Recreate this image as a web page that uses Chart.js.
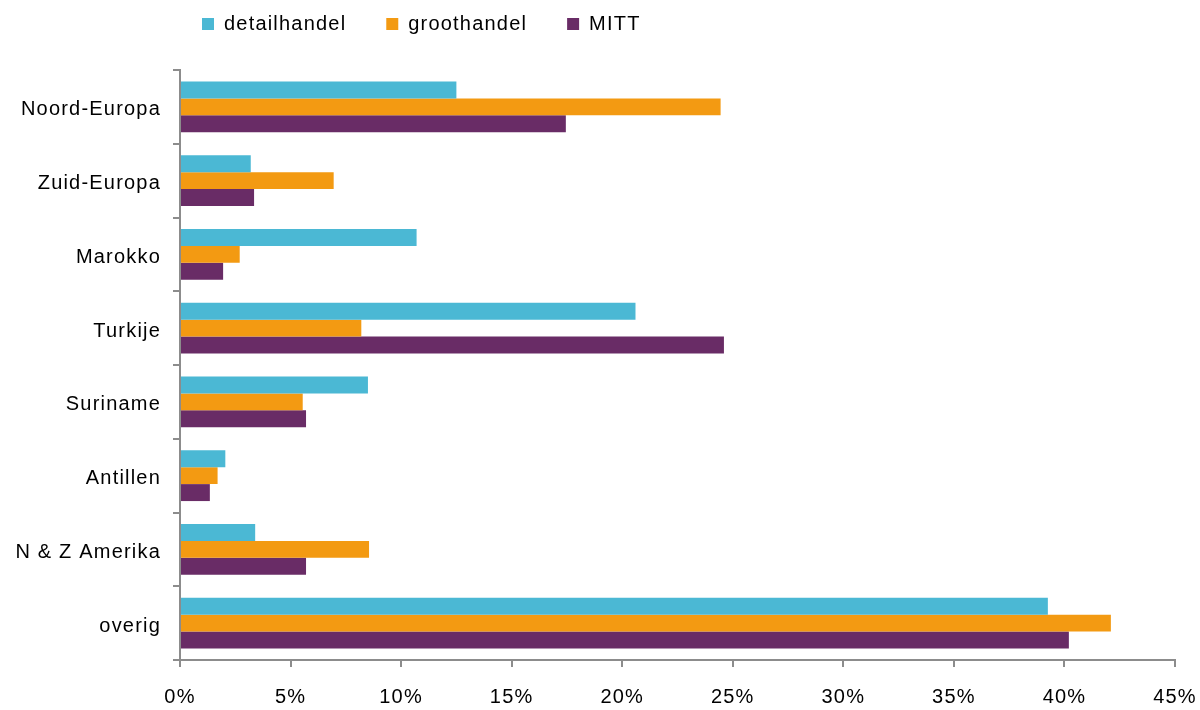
<!DOCTYPE html>
<html>
<head>
<meta charset="utf-8">
<script src="https://cdn.jsdelivr.net/npm/chart.js@4/dist/chart.umd.min.js"></script>
<style>
  html, body { margin: 0; padding: 0; background: #fff; }
  #chart { display: block; }
</style>
</head>
<body>
<canvas id="chart" width="1200" height="710"></canvas>
<script>
const regions = ['Noord-Europa', 'Zuid-Europa', 'Marokko', 'Turkije', 'Suriname', 'Antillen', 'N & Z Amerika', 'overig'];
const detailhandel = [12.5, 3.2, 10.7, 20.6, 8.5, 2.05, 3.4, 39.25];
const groothandel = [24.45, 6.95, 2.7, 8.2, 5.55, 1.7, 8.55, 42.1];
const mitt = [17.45, 3.35, 1.95, 24.6, 5.7, 1.35, 5.7, 40.2];

const axisGrey = '#8c8c8c';
const font = { family: 'Liberation Sans, Arial, sans-serif', size: 20 };

// move the legend to where the original has it, and widen the text a bit
const legendSpot = {
  id: 'legendSpot',
  beforeInit(chart) {
    const fit = chart.legend.fit;
    chart.legend.fit = function () {
      fit.call(this);
      this.height = 70;
    };
  },
  beforeDraw(chart) {
    chart.legend.left = 162;
    chart.legend.top = -26;
    chart.ctx.letterSpacing = '1.2px';
  },
  afterDraw(chart) {
    chart.ctx.letterSpacing = '0px';
  }
};

new Chart(document.getElementById('chart'), {
  type: 'bar',
  data: {
    labels: regions,
    datasets: [
      { label: 'detailhandel', data: detailhandel, backgroundColor: '#4bb8d4' },
      { label: 'groothandel', data: groothandel, backgroundColor: '#f39a12' },
      { label: 'MITT', data: mitt, backgroundColor: '#692c66' }
    ]
  },
  options: {
    indexAxis: 'y',
    responsive: false,
    animation: false,
    datasets: {
      bar: { categoryPercentage: 0.69, barPercentage: 1.0 }
    },
    layout: { padding: { left: 0, right: 25, top: 0, bottom: 0 } },
    plugins: {
      legend: {
        align: 'start',
        labels: {
          boxWidth: 12,
          boxHeight: 12,
          padding: 40,
          color: '#000',
          font: font
        }
      },
      tooltip: { enabled: false }
    },
    scales: {
      x: {
        min: 0,
        max: 45,
        afterFit: (scale) => {
          scale.height = 50;
          scale.paddingRight = 0;
          scale.paddingLeft = 0;
        },
        ticks: {
          stepSize: 5,
          color: '#000',
          font: font,
          padding: 18,
          callback: (v) => v + '%'
        },
        grid: {
          drawOnChartArea: false,
          tickLength: 7,
          color: axisGrey,
          lineWidth: 2
        },
        border: { color: axisGrey, width: 2 }
      },
      y: {
        afterFit: (scale) => { scale.width = 180; },
        ticks: {
          color: '#000',
          font: font,
          padding: 12,
          labelOffset: 3
        },
        grid: {
          offset: true,
          drawOnChartArea: false,
          tickLength: 7,
          color: axisGrey,
          lineWidth: 2
        },
        border: { color: axisGrey, width: 2 }
      }
    }
  },
  plugins: [legendSpot]
});
</script>
</body>
</html>
